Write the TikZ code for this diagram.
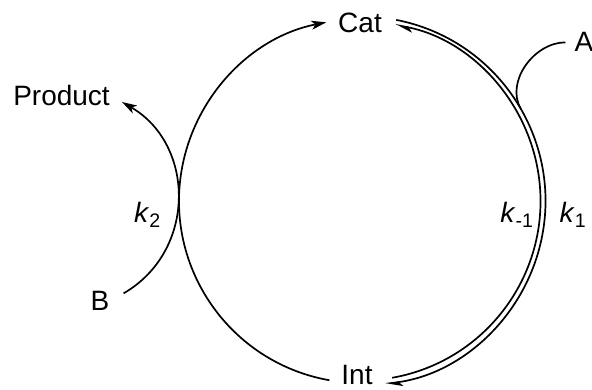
\documentclass[tikz,border=0pt]{standalone}
\usepackage{fontspec}
\setmainfont{Liberation Sans}
\usetikzlibrary{arrows.meta, calc}

\begin{document}
\begin{tikzpicture}[
    x=1pt, y=1pt,
    species/.style={anchor=base, inner sep=1pt, font=\fontsize{28}{32}\selectfont},
    rate/.style={anchor=base, inner sep=1pt, font=\fontsize{28}{32}\selectfont},
    cycarrow/.style={-{Stealth[length=15pt, width=9pt, inset=4pt]}, line width=1.7pt},
    harpoon/.style={-{Stealth[length=15pt, width=9pt, inset=4pt, left]}, line width=1.7pt}
]
\useasboundingbox (0,0) rectangle (592,389);
\coordinate (ctr) at (361,188);

\node[species] (cat) at (360,356) {Cat};
\node[species] (int) at (357,5) {Int};
\node[species] (a) at (584,337) {A};
\node[species] (b) at (100,79) {B};
\node[species] (prod) at (61.5,283) {Product};

\node[rate] (k2) at (147.5,166.5) {\textit{k}\textsubscript{2}};
\node[rate] (km1) at (517,166.5) {\textit{k}\textsubscript{-1}};
\node[rate] (k1) at (573,166.5) {\textit{k}\textsubscript{1}};

% catalytic cycle
\draw[cycarrow] ($(ctr)+(260:182)$) arc[start angle=260, end angle=101, radius=182];
\draw[harpoon] ($(ctr)+(79:184.5)$) arc[start angle=79, end angle=-82.5, radius=184.5];
\draw[harpoon] ($(ctr)+(-80:179.5)$) arc[start angle=-80, end angle=79, radius=179.5];

% A in, B in / product out
\coordinate (ajoin) at ($(ctr)+(30:184.5)$);
\draw[line width=1.7pt] ([xshift=-8pt]a.west) to[out=180, in=120] (ajoin);
\draw[cycarrow] ([xshift=13pt,yshift=7pt]b.east) to[out=30, in=-30, looseness=1.13] ([xshift=11pt,yshift=-6pt]prod.east);
\end{tikzpicture}
\end{document}
